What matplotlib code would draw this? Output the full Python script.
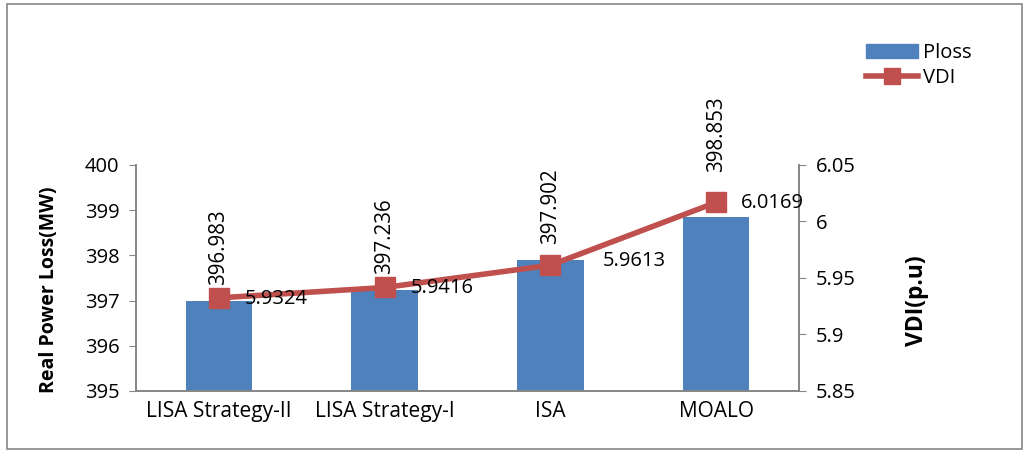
import matplotlib
matplotlib.use("Agg")
import matplotlib.pyplot as plt
from matplotlib.patches import Rectangle
from matplotlib.lines import Line2D
from matplotlib.patches import Patch

categories = ["LISA Strategy-II", "LISA Strategy-I", "ISA", "MOALO"]
ploss = [396.983, 397.236, 397.902, 398.853]
vdi = [5.9324, 5.9416, 5.9613, 6.0169]
ploss_labels = ["396.983", "397.236", "397.902", "398.853"]
vdi_labels = ["5.9324", "5.9416", "5.9613", "6.0169"]
left_ticks = [395, 396, 397, 398, 399, 400]
right_ticks = [5.85, 5.9, 5.95, 6.0, 6.05]
right_tick_labels = ["5.85", "5.9", "5.95", "6", "6.05"]

plt.rcParams['font.family'] = ['Open Sans', 'DejaVu Sans']

BLUE = "#4F81BD"
RED = "#C0504D"
GRAY = "#868686"

W, H = 1027, 453
fig = plt.figure(figsize=(W / 100, H / 100), dpi=100)
ax = fig.add_axes([136 / W, 1 - 391 / H, (799 - 136) / W, (391 - 165) / H])
ax2 = ax.twinx()

x = list(range(len(categories)))
ax.bar(x, ploss, width=0.4, color=BLUE, zorder=2)
ax.set_ylim(395, 400)
ax.set_xlim(-0.5, 3.5)
ax.set_yticks(left_ticks)
ax.set_yticklabels([str(t) for t in left_ticks], fontsize=14.5)
ax.set_xticks(x)
ax.set_xticklabels(categories, fontsize=15)
ax.tick_params(axis='x', length=0, pad=7)
ax.tick_params(axis='y', length=5, color=GRAY, pad=7)

ax2.plot(x, vdi, color=RED, lw=4, marker='s', ms=14, mfc=RED, mec=RED, zorder=5)
ax2.set_ylim(5.85, 6.05)
ax2.set_yticks(right_ticks)
ax2.set_yticklabels(right_tick_labels, fontsize=14.5)
ax2.tick_params(axis='y', length=5, color=GRAY, pad=7)

for a in (ax, ax2):
    a.spines['top'].set_visible(False)
    for s in ('left', 'right', 'bottom'):
        a.spines[s].set_color(GRAY)
        a.spines[s].set_linewidth(1.2)

# bar labels
bar_offsets = [16, 16, 16, 45]
for i, (v, lab) in enumerate(zip(ploss, ploss_labels)):
    ax.annotate(lab, (i, v), xytext=(0, bar_offsets[i] * 0.72), textcoords='offset points',
                rotation=90, ha='center', va='bottom', fontsize=14.8, zorder=6)

# line labels
vdi_offsets = [(26, -1), (26, -1), (52, 4), (25, -1)]
for i, (v, lab) in enumerate(zip(vdi, vdi_labels)):
    dx, dy = vdi_offsets[i]
    ax2.annotate(lab, (i, v), xytext=(dx * 0.72, dy * 0.72), textcoords='offset points',
                 ha='left', va='center', fontsize=14.5, zorder=6)

fig.text(49 / W, 1 - 290 / H, "Real Power Loss(MW)", rotation=90, ha='center', va='center',
         fontsize=14, fontweight='bold')
fig.text(917 / W, 1 - 301 / H, "VDI(p.u)", rotation=90, ha='center', va='center',
         fontsize=16.5, fontweight='bold')

handles = [Patch(facecolor=BLUE, edgecolor=BLUE),
           Line2D([0], [0], color=RED, lw=4, marker='s', ms=12, mfc=RED, mec=RED)]
fig.legend(handles, ["Ploss", "VDI"], loc='upper left', bbox_to_anchor=(858 / W, 1 - 35 / H),
           frameon=False, fontsize=14.5, handlelength=2.6, handletextpad=0.25, labelspacing=0.25,
           borderaxespad=0)

fig.add_artist(Rectangle((7 / W, 4 / H), (1022 - 7) / W, (449 - 4) / H, transform=fig.transFigure,
                         fill=False, edgecolor=GRAY, lw=1.2))

fig.savefig("out.png", dpi=100)
